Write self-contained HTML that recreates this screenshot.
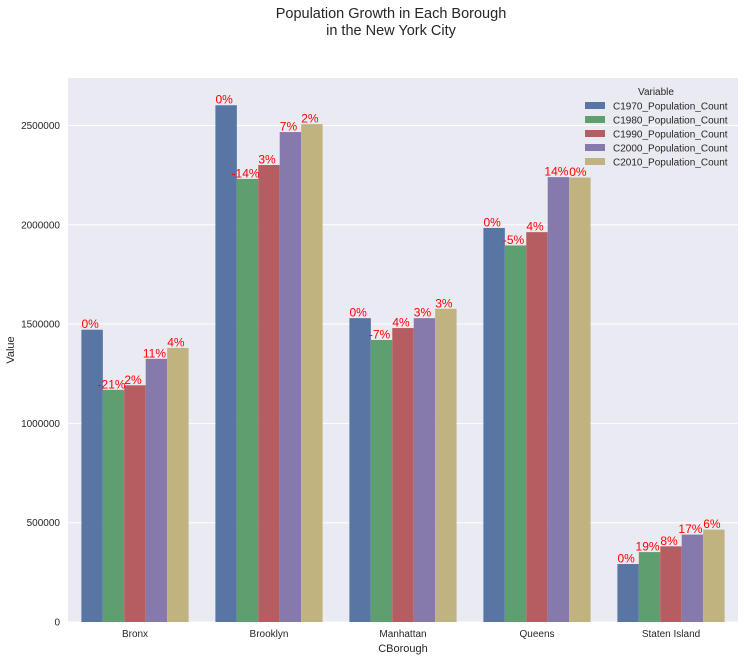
<!DOCTYPE html>
<html><head><meta charset="utf-8"><style>
body{margin:0;background:#fff;font-family:"Liberation Sans",sans-serif;}
</style></head><body>
<svg width="744" height="660" xmlns="http://www.w3.org/2000/svg" font-family="Liberation Sans, sans-serif">
<text x="391" y="18" text-anchor="middle" font-size="14.5" fill="#262626">Population Growth in Each Borough</text>
<text x="391" y="35" text-anchor="middle" font-size="14.5" fill="#262626">in the New York City</text>
<rect x="68" y="78" width="670" height="544" fill="#eaeaf2"/>
<g id="grid"></g><g id="bars"></g><g id="labels"></g><g id="ticks"></g>
<text x="14" y="350" transform="rotate(-90 14 350)" text-anchor="middle" font-size="11" fill="#262626">Value</text>
<text x="403" y="652" text-anchor="middle" font-size="11" fill="#262626">CBorough</text>
<g id="legend"></g>
</svg>
<script>
const categories=["Bronx","Brooklyn","Manhattan","Queens","Staten Island"];
const seriesNames=["C1970_Population_Count","C1980_Population_Count","C1990_Population_Count","C2000_Population_Count","C2010_Population_Count"];
const s1970=[1471701,2602012,1530000,1984000,292000];
const s1980=[1168972,2230936,1420000,1896000,352000];
const s1990=[1192000,2301000,1480000,1963000,381000];
const s2000=[1325000,2467000,1530000,2240000,440000];
const s2010=[1380000,2507000,1577000,2238000,465000];
const pct1970=["0%","0%","0%","0%","0%"];
const pct1980=["-21%","-14%","-7%","-5%","19%"];
const pct1990=["2%","3%","4%","4%","8%"];
const pct2000=["11%","7%","3%","14%","17%"];
const pct2010=["4%","2%","3%","0%","6%"];
const yTicks=[0,500000,1000000,1500000,2000000,2500000];
const series=[s1970,s1980,s1990,s2000,s2010];
const pcts=[pct1970,pct1980,pct1990,pct2000,pct2010];
const colors=["#5875a4","#5f9e6e","#b55d60","#857aab","#c1b37f"];
const NS="http://www.w3.org/2000/svg";
const X0=68,W=670,Y0=622,PXPER=99.3/500000;
const y=v=>Y0-v*PXPER;
const gw=W/categories.length,bw=gw*0.8/5;
function mk(t,a,p){const e=document.createElementNS(NS,t);for(const k in a)e.setAttribute(k,a[k]);p.appendChild(e);return e;}
const G=document.getElementById('grid'),B=document.getElementById('bars'),L=document.getElementById('labels'),T=document.getElementById('ticks'),LG=document.getElementById('legend');
yTicks.forEach(v=>{
 const l=mk('line',{x1:X0,x2:X0+W,y1:y(v),y2:y(v),stroke:'#fff','stroke-width':1},G);
 
 
 const t=mk('text',{x:60,y:y(v)+3.5,'text-anchor':'end','font-size':10,fill:'#262626'},T);
 t.textContent=v;
 
 
});
categories.forEach((c,i)=>{
 const gx=X0+gw*i+gw*0.1;
 series.forEach((s,j)=>{
  const bx=gx+bw*j;
  const r=mk('rect',{x:bx,y:y(s[i]),width:bw,height:Y0-y(s[i]),fill:colors[j]},B);
  
  
  const t=mk('text',{x:bx+bw/2-2,y:y(s[i])-1.5,'text-anchor':'middle','font-size':12,fill:'#ff0000'},L);
  t.textContent=pcts[j][i];
  
  
 });
 const t=mk('text',{x:X0+gw*(i+0.5),y:637,'text-anchor':'middle','font-size':10,fill:'#262626'},T);
 t.textContent=c;
 
 
});
const lt=mk('text',{x:656,y:95,'text-anchor':'middle','font-size':10,fill:'#262626'},LG);
lt.textContent="Variable";


seriesNames.forEach((n,j)=>{
 const yy=102+j*14;
 const r=mk('rect',{x:585,y:yy,width:20,height:7,fill:colors[j]},LG);
 
 
 const t=mk('text',{x:613,y:yy+7.5,'font-size':10,fill:'#262626'},LG);
 t.textContent=n;
 
 
});
</script>
</body></html>
